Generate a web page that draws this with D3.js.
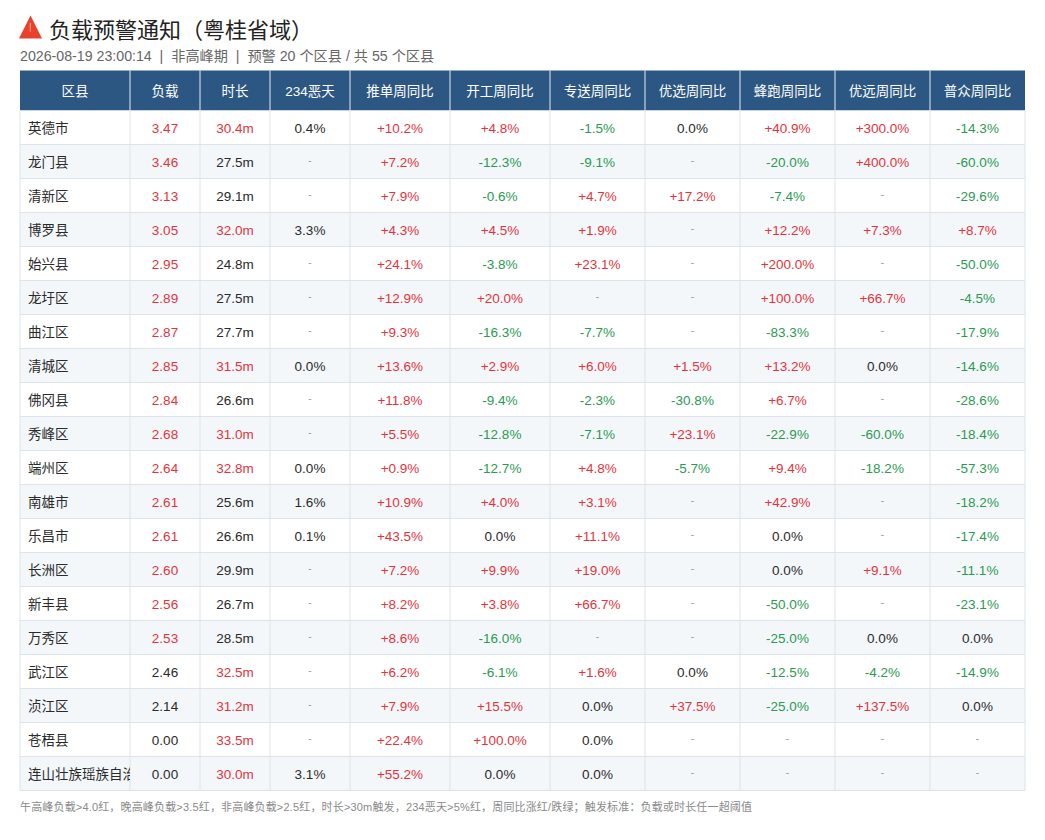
<!DOCTYPE html>
<html>
<head>
<meta charset="utf-8">
<script src="https://cdn.jsdelivr.net/npm/d3@7/dist/d3.min.js"></script>
<style>
  html, body { margin: 0; padding: 0; background: #fff; }
  svg text { font-family: "Liberation Sans", "Noto Sans CJK SC", sans-serif; }
</style>
</head>
<body>
<svg id="chart" width="1045" height="840"></svg>
<script>
// ---------------- DATA ----------------
const title = "负载预警通知（粤桂省域）";
const subtitle = "2026-08-19 23:00:14  |  非高峰期  |  预警 20 个区县 / 共 55 个区县";
const footnote = "午高峰负载>4.0红，晚高峰负载>3.5红，非高峰负载>2.5红，时长>30m触发，234恶天>5%红，周同比涨红/跌绿；触发标准：负载或时长任一超阈值";

const headers = ["区县", "负载", "时长", "234恶天", "推单周同比", "开工周同比", "专送周同比", "优选周同比", "蜂跑周同比", "优远周同比", "普众周同比"];

const districts = ["英德市", "龙门县", "清新区", "博罗县", "始兴县", "龙圩区", "曲江区", "清城区", "佛冈县", "秀峰区",
  "端州区", "南雄市", "乐昌市", "长洲区", "新丰县", "万秀区", "武江区", "浈江区", "苍梧县", "连山壮族瑶族自治县"];

const load = [3.47, 3.46, 3.13, 3.05, 2.95, 2.89, 2.87, 2.85, 2.84, 2.68, 2.64, 2.61, 2.61, 2.60, 2.56, 2.53, 2.46, 2.14, 0.00, 0.00];
const duration = [30.4, 27.5, 29.1, 32.0, 24.8, 27.5, 27.7, 31.5, 26.6, 31.0, 32.8, 25.6, 26.6, 29.9, 26.7, 28.5, 32.5, 31.2, 33.5, 30.0];
const bad234 = [0.4, null, null, 3.3, null, null, null, 0.0, null, null, 0.0, 1.6, 0.1, null, null, null, null, null, null, 3.1];

const orderWoW = [10.2, 7.2, 7.9, 4.3, 24.1, 12.9, 9.3, 13.6, 11.8, 5.5, 0.9, 10.9, 43.5, 7.2, 8.2, 8.6, 6.2, 7.9, 22.4, 55.2];
const workWoW = [4.8, -12.3, -0.6, 4.5, -3.8, 20.0, -16.3, 2.9, -9.4, -12.8, -12.7, 4.0, 0.0, 9.9, 3.8, -16.0, -6.1, 15.5, 100.0, 0.0];
const zhuansongWoW = [-1.5, -9.1, 4.7, 1.9, 23.1, null, -7.7, 6.0, -2.3, -7.1, 4.8, 3.1, 11.1, 19.0, 66.7, null, 1.6, 0.0, 0.0, 0.0];
const youxuanWoW = [0.0, null, 17.2, null, null, null, null, 1.5, -30.8, 23.1, -5.7, null, null, null, null, null, 0.0, 37.5, null, null];
const fengpaoWoW = [40.9, -20.0, -7.4, 12.2, 200.0, 100.0, -83.3, 13.2, 6.7, -22.9, 9.4, 42.9, 0.0, 0.0, -50.0, -25.0, -12.5, -25.0, null, null];
const youyuanWoW = [300.0, 400.0, null, 7.3, null, 66.7, null, 0.0, null, -60.0, -18.2, null, null, 9.1, null, 0.0, -4.2, 137.5, null, null];
const puzhongWoW = [-14.3, -60.0, -29.6, 8.7, -50.0, -4.5, -17.9, -14.6, -28.6, -18.4, -57.3, -18.2, -17.4, -11.1, -23.1, 0.0, -14.9, 0.0, null, null];

const wowSeries = [orderWoW, workWoW, zhuansongWoW, youxuanWoW, fengpaoWoW, youyuanWoW, puzhongWoW];

// thresholds (non-peak)
const loadThreshold = 2.5;
const durationThreshold = 30;
const badThreshold = 5;

// ---------------- LAYOUT / STYLE ----------------
const colWidths = [110, 70, 70, 80, 100, 100, 95, 95, 95, 95, 95];
const tableLeft = 20, headerTop = 70.5, headerH = 40, tableBottom = 790.5;
const C = {
  header: "#2d5783", headerText: "#ffffff", headerLine: "#e6ebf1",
  grid: "#dde3ea", alt: "#f3f7fa", text: "#2a2a2a",
  red: "#e3343c", green: "#2b9a52", dash: "#9a9a9a", sub: "#666666", foot: "#8a8a8a"
};

const svg = d3.select("#chart");
const loc = d3.formatLocale({ decimal: ".", thousands: ",", grouping: [3], currency: ["", ""], minus: "-" });
const f1 = loc.format(".1f"), f2 = loc.format(".2f");

// ---------------- SCALES ----------------
const colEdges = d3.cumsum([0, ...colWidths]);
const xCol = d3.scaleOrdinal().domain(d3.range(colWidths.length)).range(colEdges.slice(0, -1).map(v => v + tableLeft));
const wCol = i => colWidths[i];
const tableRight = tableLeft + colEdges[colEdges.length - 1];

const y = d3.scaleBand().domain(districts).range([headerTop + headerH, tableBottom]).padding(0);

// ---------------- TITLE ----------------
const icon = svg.append("g");
icon.append("path")
  .attr("d", "M30.5,15.5 L42,38.5 L19,38.5 Z")
  .attr("fill", "#e8412c");
icon.append("path")
  .attr("d", "M29.6,23 L31.0,23 L30.6,32 L29.9,32 Z")
  .attr("fill", "#f4a08f");

svg.append("text")
  .attr("x", 49).attr("y", 37.5)
  .attr("font-size", 22)
  .attr("fill", "#222")
  .style("font-family", "'Noto Sans CJK SC', sans-serif")
  .text(title);

svg.append("text")
  .attr("x", 20).attr("y", 60.5)
  .attr("font-size", 14.2)
  .attr("fill", C.sub)
  .attr("xml:space", "preserve")
  .style("white-space", "pre")
  .text(subtitle);

// ---------------- HEADER ----------------
const head = svg.append("g");
head.append("rect")
  .attr("x", tableLeft).attr("y", headerTop)
  .attr("width", tableRight - tableLeft).attr("height", headerH)
  .attr("fill", C.header);
head.selectAll("line.hsep")
  .data(d3.range(1, colWidths.length))
  .join("line")
  .attr("x1", i => xCol(i)).attr("x2", i => xCol(i))
  .attr("y1", headerTop).attr("y2", headerTop + headerH)
  .attr("stroke", C.headerLine).attr("stroke-width", 1);
head.selectAll("text")
  .data(headers)
  .join("text")
  .attr("x", (d, i) => xCol(i) + wCol(i) / 2)
  .attr("y", headerTop + headerH / 2 + 5)
  .attr("text-anchor", "middle")
  .attr("font-size", 13.5)
  .attr("fill", C.headerText)
  .text(d => d);

// ---------------- BODY ----------------
const body = svg.append("g");
body.selectAll("rect.row")
  .data(districts)
  .join("rect")
  .attr("class", "row")
  .attr("x", tableLeft).attr("y", d => y(d))
  .attr("width", tableRight - tableLeft).attr("height", y.bandwidth())
  .attr("fill", (d, i) => i % 2 === 1 ? C.alt : "#ffffff");

body.selectAll("line.hgrid")
  .data(districts)
  .join("line")
  .attr("x1", tableLeft).attr("x2", tableRight)
  .attr("y1", d => y(d) + y.bandwidth()).attr("y2", d => y(d) + y.bandwidth())
  .attr("stroke", C.grid).attr("stroke-width", 1);

body.selectAll("line.vgrid")
  .data(d3.range(0, colWidths.length + 1))
  .join("line")
  .attr("x1", i => i < colWidths.length ? xCol(i) : tableRight)
  .attr("x2", i => i < colWidths.length ? xCol(i) : tableRight)
  .attr("y1", headerTop + headerH).attr("y2", tableBottom)
  .attr("stroke", C.grid).attr("stroke-width", 1);

svg.append("defs").append("clipPath").attr("id", "clipName")
  .append("rect").attr("x", tableLeft).attr("y", headerTop + headerH)
  .attr("width", colWidths[0]).attr("height", tableBottom - headerTop - headerH);

const fmtPct = v => v === null ? "-" : (v > 0 ? "+" : "") + f1(v) + "%";
const pctColor = v => v === null ? C.dash : v > 0 ? C.red : v < 0 ? C.green : C.text;

const cells = [];
districts.forEach((d, r) => {
  cells.push({ r: d, c: 0, text: d, color: C.text, anchor: "start" });
  cells.push({ r: d, c: 1, text: f2(load[r]), color: load[r] > loadThreshold ? C.red : C.text });
  cells.push({ r: d, c: 2, text: f1(duration[r]) + "m", color: duration[r] >= durationThreshold ? C.red : C.text });
  const b = bad234[r];
  cells.push({ r: d, c: 3, text: b === null ? "-" : f1(b) + "%", color: b === null ? C.dash : (b > badThreshold ? C.red : C.text), dash: b === null });
  wowSeries.forEach((s, k) => {
    cells.push({ r: d, c: 4 + k, text: fmtPct(s[r]), color: pctColor(s[r]), dash: s[r] === null });
  });
});

body.selectAll("text.cell")
  .data(cells)
  .join("text")
  .attr("class", "cell")
  .attr("x", d => d.anchor === "start" ? xCol(d.c) + 8 : xCol(d.c) + wCol(d.c) / 2)
  .attr("y", d => y(d.r) + y.bandwidth() / 2 + (d.dash ? 2 : 5))
  .attr("text-anchor", d => d.anchor || "middle")
  .attr("font-size", d => d.dash ? 10 : 13.5)
  .attr("fill", d => d.color)
  .attr("clip-path", d => d.c === 0 ? "url(#clipName)" : null)
  .style("font-family", d => d.c === 0 ? "'Noto Sans CJK SC', sans-serif" : null)
  .text(d => d.text);

// ---------------- FOOTNOTE ----------------
svg.append("text")
  .attr("x", 20).attr("y", 811)
  .attr("font-size", 11)
  .attr("fill", C.foot)
  .attr("textLength", 732)
  .attr("lengthAdjust", "spacing")
  .text(footnote);
</script>
</body>
</html>
